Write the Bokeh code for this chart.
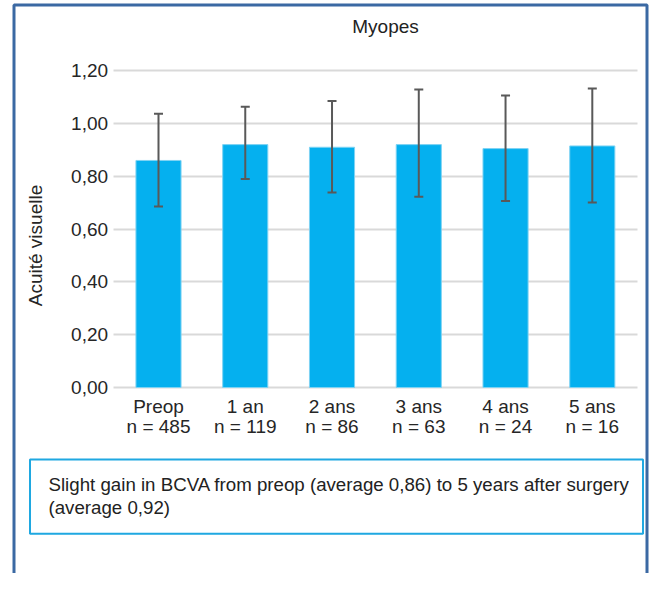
import math
from bokeh.plotting import figure
from bokeh.models import (ColumnDataSource, FixedTicker, Whisker, TeeHead,
                          BoxAnnotation, Label, LinearAxis, Range1d)
from bokeh.embed import file_html
from bokeh.resources import INLINE

# ---- data ----
periods = ["Preop", "1 an", "2 ans", "3 ans", "4 ans", "5 ans"]
counts = ["n = 485", "n = 119", "n = 86", "n = 63", "n = 24", "n = 16"]
means = [0.86, 0.92, 0.91, 0.92, 0.905, 0.915]
upper = [1.037, 1.063, 1.085, 1.129, 1.106, 1.133]
lower = [0.686, 0.790, 0.739, 0.723, 0.706, 0.701]
y_ticks = [0.0, 0.2, 0.4, 0.6, 0.8, 1.0, 1.2]
y_tick_labels = ["0,00", "0,20", "0,40", "0,60", "0,80", "1,00", "1,20"]
title_text = "Myopes"
y_title = "Acuité visuelle"
note_lines = ["Slight gain in BCVA from preop (average 0,86) to 5 years after surgery",
              "(average 0,92)"]

FONT = "Liberation Sans"
FS = "19px"
TXT = "#262626"
W, H = 649, 573

# ---- layout geometry (pixels -> data), styling only ----
X0_PX, STEP_PX = 158.0, 86.76     # centre of first category, category spacing
Y0_PX, UNIT_PX = 387.0, 264.0     # pixel row of value 0, pixels per 1.0


def px(xp):
    return (xp - X0_PX) / STEP_PX


def py(yp):
    return (Y0_PX - yp) / UNIT_PX


idx = list(range(len(periods)))
src = ColumnDataSource(dict(x=idx, mean=means, upper=upper, lower=lower))

p = figure(width=W, height=H, output_backend="svg", toolbar_location=None,
           x_range=Range1d(px(0), px(W)), y_range=Range1d(py(H), py(0)),
           min_border=0)
p.title = None
p.outline_line_color = None
p.background_fill_color = "white"
p.border_fill_color = "white"

# grid lines (only across the plotting area)
p.xgrid.visible = False
g = p.ygrid[0]
g.ticker = FixedTicker(ticks=y_ticks)
g.grid_line_color = "#d9d9d9"
g.grid_line_width = 2
if "cross_bounds" in g.properties():
    g.cross_bounds = (px(113), px(637))
else:
    g.visible = False
    p.segment(x0=[px(113)] * len(y_ticks), x1=[px(637)] * len(y_ticks),
              y0=y_ticks, y1=y_ticks, line_color="#d9d9d9", line_width=2)

p.vbar(x="x", top="mean", width=0.52, source=src,
       fill_color="#05b0ef", line_color="#7fd3f3", line_width=1)

wh = Whisker(base="x", upper="upper", lower="lower", source=src,
             line_color="#595959", line_width=2, level="overlay",
             upper_head=TeeHead(size=9, line_color="#595959", line_width=2),
             lower_head=TeeHead(size=9, line_color="#595959", line_width=2))
p.add_layout(wh)

# y axis
ya = p.yaxis[0]
ya.fixed_location = px(114.6)
ya.ticker = FixedTicker(ticks=y_ticks)
ya.major_label_overrides = {t: l for t, l in zip(y_ticks, y_tick_labels)}
ya.axis_line_color = None
ya.major_tick_line_color = None
ya.minor_tick_line_color = None
ya.major_tick_out = 0
ya.major_tick_in = 0
ya.major_label_standoff = 7
ya.major_label_text_font = FONT
ya.major_label_text_font_size = FS
ya.major_label_text_color = TXT

# y axis title (placed beside the plotting area)
p.add_layout(Label(x=px(34.5), y=py(245), text=y_title, angle=math.pi / 2,
                   text_align="center", text_baseline="middle",
                   text_font=FONT, text_font_size=FS, text_color=TXT))


def style_x(ax, labels, standoff):
    ax.fixed_location = 0
    ax.ticker = FixedTicker(ticks=idx)
    ax.major_label_overrides = {i: l for i, l in zip(idx, labels)}
    ax.axis_line_color = None
    ax.major_tick_line_color = None
    ax.minor_tick_line_color = None
    ax.major_tick_out = 0
    ax.major_tick_in = 0
    ax.major_label_standoff = standoff
    ax.major_label_text_font = FONT
    ax.major_label_text_font_size = FS
    ax.major_label_text_color = TXT


style_x(p.xaxis[0], periods, 8)
xa2 = LinearAxis()
p.add_layout(xa2, "below")
style_x(xa2, counts, 28)

# title
p.add_layout(Label(x=px(385), y=py(25.5), text=title_text,
                   text_align="center", text_baseline="middle",
                   text_font=FONT, text_font_size=FS, text_color="#222222"))

# outer frame (blue), open at the bottom
p.add_layout(BoxAnnotation(left=px(13.5), right=px(W - 2.5), top=py(4.5), bottom=py(H + 20),
                           fill_alpha=0, line_color="#3b69a3", line_alpha=1,
                           line_width=3))

# note box
p.add_layout(BoxAnnotation(left=px(29.5), right=px(642.5), top=py(459), bottom=py(533.3),
                           fill_alpha=0, line_color="#1fa8e1", line_alpha=1,
                           line_width=2))
for i, line in enumerate(note_lines):
    p.add_layout(Label(x=px(48), y=py(483.5 + 23 * i), text=line,
                       text_align="left", text_baseline="middle",
                       text_font=FONT, text_font_size="18.7px", text_color="#222222"))

open("out.html", "w").write(file_html(p, INLINE))
